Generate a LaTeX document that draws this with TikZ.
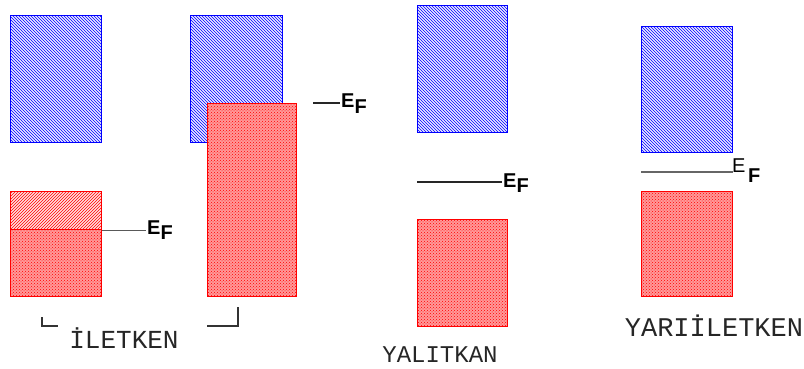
\documentclass[tikz,border=0pt]{standalone}
\usepackage{fontspec}
\setmainfont{Liberation Serif}
\newfontfamily\bandlabel{Liberation Mono}
\newfontfamily\eflabel{Liberation Sans}
\usetikzlibrary{patterns,positioning}

\begin{document}
\begin{tikzpicture}[x=1pt,y=-1pt,
 cband/.style={draw=blue,line width=1.3pt,preaction={fill=blue!8},pattern=north west lines,pattern color=blue,anchor=north west,inner sep=0pt},
 vband/.style={draw=red,line width=1.3pt,preaction={fill=red!40},pattern=crosshatch dots,pattern color=red,anchor=north west,inner sep=0pt},
 vhatch/.style={draw=red,line width=1.3pt,preaction={fill=red!12},pattern=north east lines,pattern color=red,anchor=north west,inner sep=0pt},
 efline/.style={black!85,line width=1.1pt},
 ef/.style={font=\eflabel\bfseries\fontsize{20}{20}\selectfont,inner sep=1pt,anchor=base west},
 bandname/.style={font=\bandlabel\fontsize{24}{24}\selectfont,text=black!85,inner sep=0pt}]
\useasboundingbox (0,0) rectangle (804,369);
% iletken, band half filled
\node[cband,minimum width=91pt,minimum height=127pt] (c1) at (10,15) {};
\node[vhatch,minimum width=91pt,minimum height=38pt] (v1top) at (10,191) {};
\node[vband,minimum width=91pt,minimum height=67pt] (v1) at (10,229) {};
\node[ef] (ef1) at (146,234) {E\raisebox{-0.5ex}{F}};
\draw[efline,black!65] (v1top.south east) -- (v1top.south east -| ef1.west);
% iletken, overlapping bands
\node[cband,minimum width=92pt,minimum height=127pt] (c2) at (190,15) {};
\node[vband,minimum width=89pt,minimum height=193pt] (v2) at (207,103) {};
\coordinate (f2) at (313,103);
\node[ef] (ef2) at (340,108) {E\raisebox{-0.5ex}{F}};
\draw[efline] (f2) -- (f2 -| ef2.west);
% yalitkan
\node[cband,minimum width=90pt,minimum height=127pt] (c3) at (417,5) {};
\node[vband,minimum width=90pt,minimum height=107pt] (v3) at (417,219) {};
\coordinate (f3) at (417,182);
\node[ef] (ef3) at (502,187) {E\raisebox{-0.5ex}{F}};
\draw[efline] (f3) -- (f3 -| ef3.west);
% yariiletken
\node[cband,minimum width=91pt,minimum height=126pt] (c4) at (641,26) {};
\node[vband,minimum width=91pt,minimum height=105pt] (v4) at (641,191) {};
\coordinate (f4) at (641,172);
\node[font=\eflabel\fontsize{20}{20}\selectfont,inner sep=1pt,anchor=base west] (e4) at (731,172) {E};
\node[ef] (ef4) at (747,182) {F};
\draw[efline,black!60] (f4) -- (v4.north east |- f4);
% labels
\draw[black!80,line width=1.3pt] (42,317) -- (42,326) -- (58,326);
\draw[black!80,line width=1.3pt] (207,326) -- (238,326) -- (238,307);
\node[bandname,font=\bandlabel\fontsize{26}{26}\selectfont] (l1) at (124,338) {İLETKEN};
\node[bandname] (l2) at (440,355) {YALITKAN};
\node[bandname,font=\bandlabel\fontsize{27}{27}\selectfont] (l3) at (714,326) {YARIİLETKEN};
\end{tikzpicture}
\end{document}
